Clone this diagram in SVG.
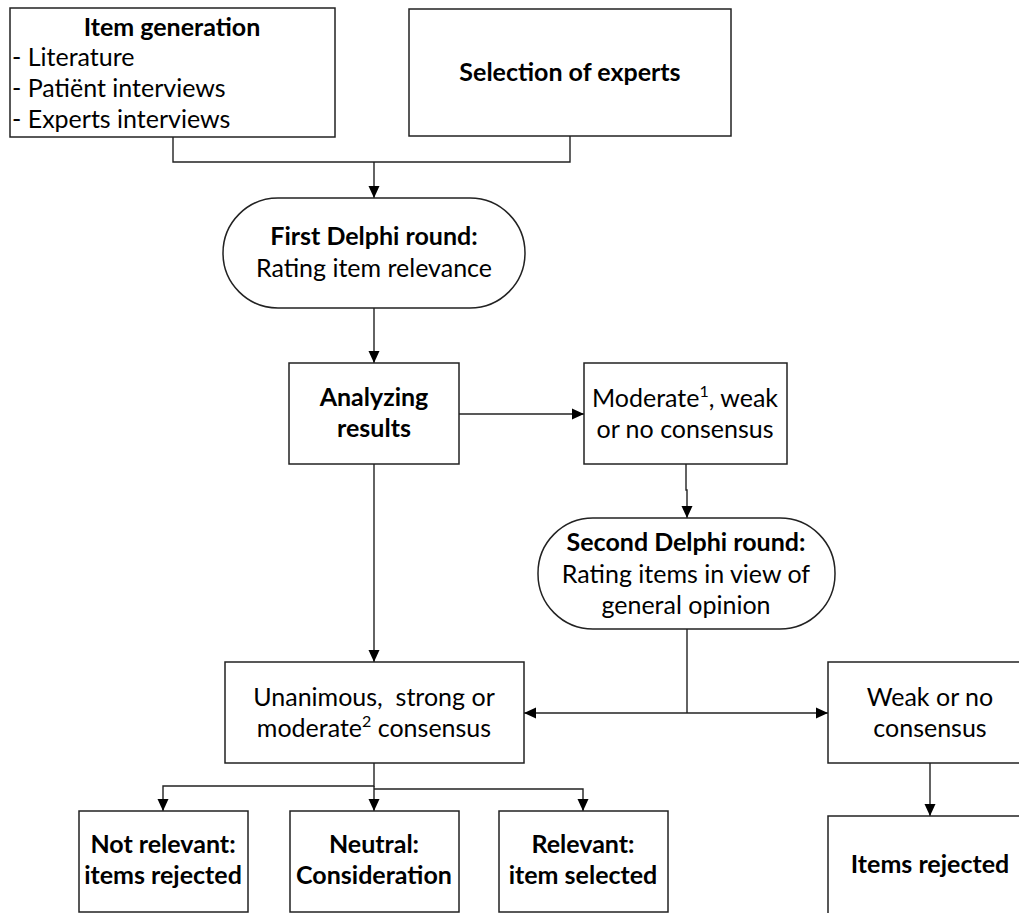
<svg xmlns="http://www.w3.org/2000/svg" width="1019" height="913" viewBox="0 0 1019 913">
<style>
.box{fill:#fff;stroke:#222;stroke-width:1.5}
.t{font-family:Lato,"Liberation Sans",sans-serif;font-size:25px;fill:#000;text-anchor:middle}
.b{font-weight:bold}
.l{text-anchor:start}
.sup{font-size:16px}
.c{fill:none;stroke:#222;stroke-width:1.4}
</style>
<defs>
<marker id="ah" markerWidth="12" markerHeight="12" viewBox="0 0 12 12" refX="12" refY="6" orient="auto" markerUnits="userSpaceOnUse">
<path d="M0,0.5 L12,6 L0,11.5 Z" fill="#000"/>
</marker>
</defs>
<rect width="1019" height="913" fill="#fff"/>
<g id="connectors">
<polyline class="c" points="173,137 173,162 570,162 570,136"/>
<line class="c" x1="374" y1="162" x2="374" y2="198" marker-end="url(#ah)"/>
<line class="c" x1="374" y1="308" x2="374" y2="363" marker-end="url(#ah)"/>
<line class="c" x1="459" y1="414" x2="584" y2="414" marker-end="url(#ah)"/>
<polyline class="c" points="686,464 686,490 687,490 687,518" marker-end="url(#ah)"/>
<line class="c" x1="374" y1="464" x2="374" y2="662" marker-end="url(#ah)"/>
<line class="c" x1="687" y1="629" x2="687" y2="713"/>
<line class="c" x1="687" y1="713" x2="524" y2="713" marker-end="url(#ah)"/>
<line class="c" x1="687" y1="713" x2="828" y2="713" marker-end="url(#ah)"/>
<line class="c" x1="930" y1="763" x2="930" y2="816" marker-end="url(#ah)"/>
<polyline class="c" points="374,763 374,786 163,786 163,811" marker-end="url(#ah)"/>
<line class="c" x1="374" y1="786" x2="374" y2="811" marker-end="url(#ah)"/>
<polyline class="c" points="374,789 583,789 583,811" marker-end="url(#ah)"/>
</g>
<g id="item-generation">
<rect class="box" x="10" y="8" width="325" height="129"/>
<text class="t b" x="172" y="36">Item generation</text>
<text class="t l" x="12" y="66">- Literature</text>
<text class="t l" x="12" y="97">- Patiënt interviews</text>
<text class="t l" x="12" y="128">- Experts interviews</text>
</g>
<g id="selection-of-experts">
<rect class="box" x="409" y="9" width="322" height="127"/>
<text class="t b" x="570" y="81">Selection of experts</text>
</g>
<g id="first-delphi">
<rect class="box" x="223" y="198" width="302" height="110" rx="55" ry="55"/>
<text class="t b" x="374" y="245">First Delphi round:</text>
<text class="t" x="374" y="277">Rating item relevance</text>
</g>
<g id="analyzing-results">
<rect class="box" x="289" y="363" width="170" height="101"/>
<text class="t b" x="374" y="406">Analyzing</text>
<text class="t b" x="374" y="437">results</text>
</g>
<g id="moderate-weak">
<rect class="box" x="584" y="363" width="203" height="101"/>
<text class="t" x="685" y="407">Moderate<tspan class="sup" dy="-10">1</tspan><tspan dy="10">, weak</tspan></text>
<text class="t" x="685" y="438">or no consensus</text>
</g>
<g id="second-delphi">
<rect class="box" x="538" y="518" width="297" height="111" rx="55" ry="55"/>
<text class="t b" x="686" y="551">Second Delphi round:</text>
<text class="t" x="686" y="583">Rating items in view of</text>
<text class="t" x="686" y="614">general opinion</text>
</g>
<g id="unanimous">
<rect class="box" x="225" y="662" width="299" height="101"/>
<text class="t" x="374" y="706" xml:space="preserve">Unanimous,  strong or</text>
<text class="t" x="374" y="737">moderate<tspan class="sup" dy="-10">2</tspan><tspan dy="10"> consensus</tspan></text>
</g>
<g id="weak-no">
<rect class="box" x="828" y="662" width="204" height="101"/>
<text class="t" x="930" y="706">Weak or no</text>
<text class="t" x="930" y="737">consensus</text>
</g>
<g id="not-relevant">
<rect class="box" x="79" y="811" width="169" height="101"/>
<text class="t b" x="163" y="853">Not relevant:</text>
<text class="t b" x="163" y="884">items rejected</text>
</g>
<g id="neutral">
<rect class="box" x="290" y="811" width="169" height="101"/>
<text class="t b" x="374" y="853">Neutral:</text>
<text class="t b" x="374" y="884">Consideration</text>
</g>
<g id="relevant">
<rect class="box" x="499" y="811" width="169" height="101"/>
<text class="t b" x="583" y="853">Relevant:</text>
<text class="t b" x="583" y="884">item selected</text>
</g>
<g id="items-rejected">
<rect class="box" x="828" y="816" width="204" height="102"/>
<text class="t b" x="930" y="873">Items rejected</text>
</g>
</svg>
